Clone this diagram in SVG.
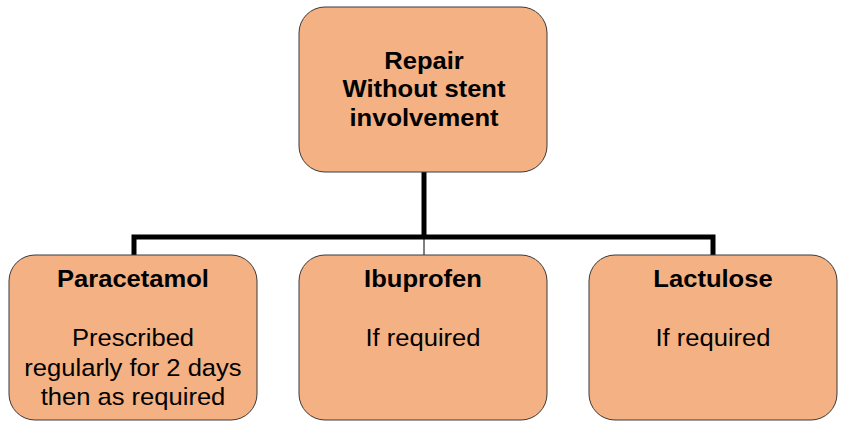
<svg xmlns="http://www.w3.org/2000/svg" width="850" height="426" viewBox="0 0 850 426">
<style>
.box{fill:#F4B183;stroke:#3a3a3a;stroke-width:1}
.t{font-family:"Liberation Sans",Arial,sans-serif;fill:#000;text-anchor:middle;font-size:24px}
.b{font-weight:bold}
.conn{fill:none;stroke:#000;stroke-width:5}
</style>
<rect width="850" height="426" fill="#fff"/>
<g id="connectors">
<line class="conn" x1="424" y1="172" x2="424" y2="237"/>
<polyline class="conn" points="134,255 134,237 713,237 713,255"/>
<line x1="424" y1="237" x2="424" y2="255" stroke="#000" stroke-width="1"/>
</g>
<g id="top">
<rect class="box" x="299" y="7" width="248" height="165" rx="26"/>
<text class="t b" transform="matrix(1.065 0 0 1 424 68.5)">Repair</text>
<text class="t b" transform="matrix(1.065 0 0 1 424 97)">Without stent</text>
<text class="t b" transform="matrix(1.065 0 0 1 424 125.5)">involvement</text>
</g>
<g id="paracetamol">
<rect class="box" x="9" y="255" width="248" height="165" rx="26"/>
<text class="t b" transform="matrix(1.065 0 0 1 133 286.5)">Paracetamol</text>
<text class="t" transform="matrix(1.065 0 0 1 133 346)">Prescribed</text>
<text class="t" transform="matrix(1.065 0 0 1 133 375.5)">regularly for 2 days</text>
<text class="t" transform="matrix(1.065 0 0 1 133 405)">then as required</text>
</g>
<g id="ibuprofen">
<rect class="box" x="299" y="255" width="248" height="165" rx="26"/>
<text class="t b" transform="matrix(1.065 0 0 1 423 286.5)">Ibuprofen</text>
<text class="t" transform="matrix(1.065 0 0 1 423 345.5)">If required</text>
</g>
<g id="lactulose">
<rect class="box" x="589" y="255" width="248" height="165" rx="26"/>
<text class="t b" transform="matrix(1.065 0 0 1 713 286.5)">Lactulose</text>
<text class="t" transform="matrix(1.065 0 0 1 713 345.5)">If required</text>
</g>
</svg>
